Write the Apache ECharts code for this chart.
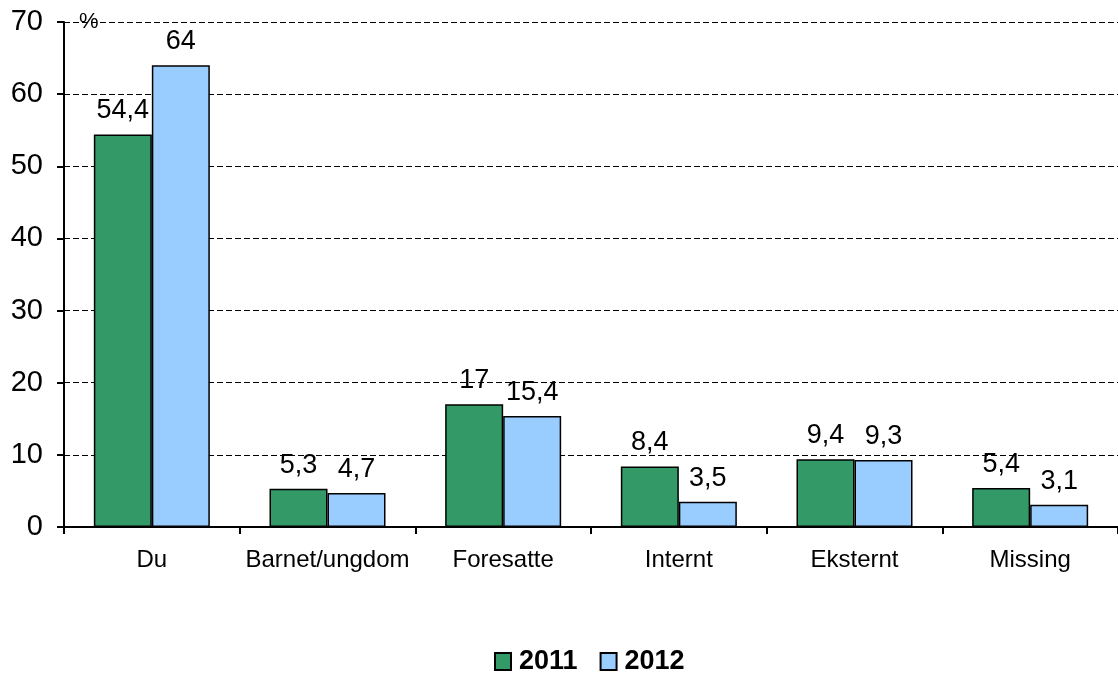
<!DOCTYPE html>
<html>
<head>
<meta charset="utf-8">
<script src="https://cdn.jsdelivr.net/npm/echarts@6/dist/echarts.min.js"></script>
<style>
  html, body { margin: 0; padding: 0; background: #fff; }
  #chart { width: 1118px; height: 673px; }
</style>
</head>
<body>
<div id="chart"></div>
<script>
var categories = ['Du', 'Barnet/ungdom', 'Foresatte', 'Internt', 'Eksternt', 'Missing'];
var values2011 = [54.4, 5.3, 17, 8.4, 9.4, 5.4];
var values2012 = [64, 4.7, 15.4, 3.5, 9.3, 3.1];
var yTicks = { min: 0, max: 70, step: 10 };

var fontName = 'Liberation Sans, Arial, sans-serif';

function commaLabel(p) {
    return String(p.value).replace('.', ',');
}

var chart = echarts.init(document.getElementById('chart'));
chart.setOption({
    animation: false,
    textStyle: { fontFamily: fontName },
    grid: { left: 64, right: 0, top: 22, bottom: 146, containLabel: false },
    legend: {
        data: ['2011', '2012'],
        icon: 'rect',
        left: 489,
        top: 643,
        itemWidth: 16,
        itemHeight: 17,
        itemGap: 22,
        textStyle: { fontSize: 27, fontWeight: 'bold', color: '#000', fontFamily: fontName, padding: [0, 0, 0, 3] }
    },
    graphic: [{
        type: 'text',
        left: 79,
        top: 11,
        style: { text: '%', fill: '#000', font: '22px ' + fontName }
    }],
    xAxis: {
        type: 'category',
        data: categories,
        axisLine: { lineStyle: { color: '#000', width: 2 } },
        axisTick: { show: true, length: 7, lineStyle: { color: '#000', width: 2 } },
        axisLabel: { interval: 0, fontSize: 24, color: '#000', margin: 21 },
        splitLine: { show: false }
    },
    yAxis: {
        type: 'value',
        min: yTicks.min,
        max: yTicks.max,
        interval: yTicks.step,
        axisLine: { show: true, lineStyle: { color: '#000', width: 2 } },
        axisTick: { show: true, length: 7, lineStyle: { color: '#000', width: 2 } },
        axisLabel: { fontSize: 29, color: '#000', margin: 21 },
        splitLine: { show: true, lineStyle: { color: '#000', type: [6, 3], width: 1 } }
    },
    series: [
        {
            name: '2011',
            type: 'bar',
            data: values2011,
            barWidth: 58,
            barGap: '0%',
            itemStyle: { color: '#339966', borderColor: '#000', borderWidth: 1.5 },
            label: { show: true, position: 'top', distance: 10, fontSize: 27, color: '#000', formatter: commaLabel }
        },
        {
            name: '2012',
            type: 'bar',
            data: values2012,
            barWidth: 58,
            barGap: '0%',
            itemStyle: { color: '#99CCFF', borderColor: '#000', borderWidth: 1.5 },
            label: { show: true, position: 'top', distance: 10, fontSize: 27, color: '#000', formatter: commaLabel }
        }
    ]
});
</script>
</body>
</html>
